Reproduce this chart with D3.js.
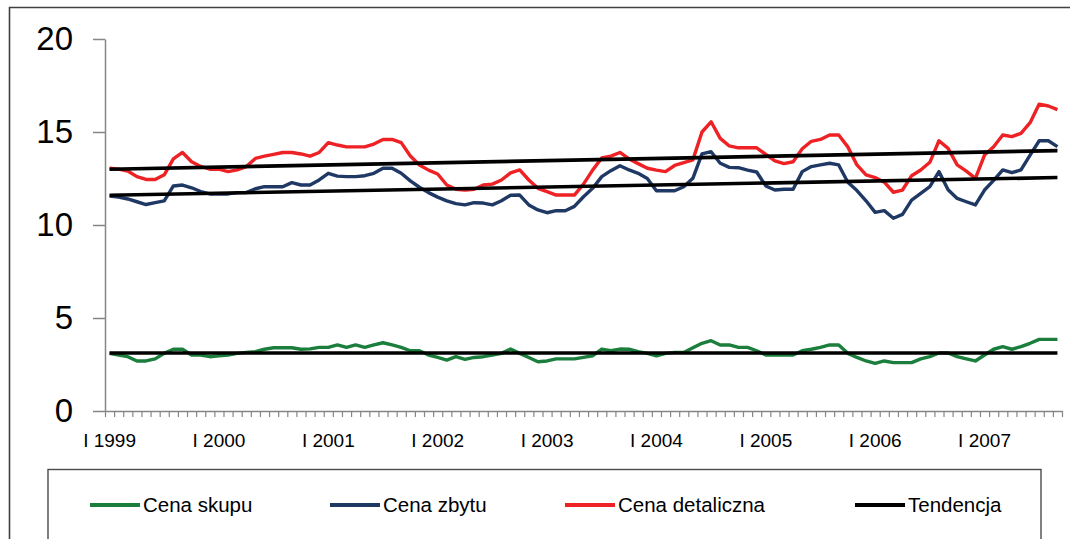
<!DOCTYPE html>
<html>
<head>
<meta charset="utf-8">
<script src="https://cdn.jsdelivr.net/npm/d3@7"></script>
<style>
  html, body { margin: 0; padding: 0; background: #fff; }
  svg { display: block; font-family: "Liberation Sans", Arial, sans-serif; }
</style>
</head>
<body>
<svg id="chart" width="1070" height="539"></svg>
<script>
// Monthly prices, January 1999 – September 2007
const years = [1999, 2000, 2001, 2002, 2003, 2004, 2005, 2006, 2007];
const romanMonths = ["I", "II", "III", "IV", "V", "VI", "VII", "VIII", "IX", "X", "XI", "XII"];
const lastYearMonths = 9;

const cenaSkupu = [
  3.10, 3.01, 2.92, 2.69, 2.69, 2.80, 3.10, 3.32, 3.32, 3.01, 3.01, 2.92,
  2.97, 3.01, 3.10, 3.15, 3.19, 3.32, 3.40, 3.40, 3.40, 3.32, 3.34, 3.42,
  3.42, 3.55, 3.42, 3.55, 3.42, 3.55, 3.67, 3.55, 3.42, 3.24, 3.24, 3.01,
  2.88, 2.74, 2.92, 2.78, 2.88, 2.92, 3.01, 3.10, 3.33, 3.10, 2.88, 2.65,
  2.69, 2.80, 2.80, 2.80, 2.88, 2.97, 3.33, 3.24, 3.33, 3.32, 3.19, 3.10,
  2.97, 3.10, 3.15, 3.15, 3.40, 3.64, 3.78, 3.55, 3.55, 3.42, 3.42, 3.24,
  3.01, 3.01, 3.01, 3.01, 3.24, 3.32, 3.42, 3.55, 3.55, 3.10, 2.88, 2.69,
  2.56, 2.69, 2.60, 2.60, 2.60, 2.80, 2.92, 3.12, 3.12, 2.92, 2.80, 2.69,
  3.01, 3.32, 3.46, 3.32, 3.46, 3.64, 3.85, 3.85, 3.85
];

const cenaZbytu = [
  11.55, 11.50, 11.40, 11.25, 11.10, 11.20, 11.30, 12.10, 12.15, 12.00, 11.80, 11.67,
  11.67, 11.67, 11.74, 11.74, 11.95, 12.06, 12.06, 12.06, 12.28, 12.15, 12.15, 12.42,
  12.78, 12.63, 12.60, 12.60, 12.65, 12.78, 13.05, 13.05, 12.78, 12.37, 12.03, 11.74,
  11.50, 11.30, 11.15, 11.08, 11.20, 11.18, 11.08, 11.30, 11.60, 11.61, 11.08, 10.81,
  10.66, 10.77, 10.77, 11.00, 11.52, 11.97, 12.60, 12.92, 13.19, 12.96, 12.78, 12.50,
  11.84, 11.84, 11.84, 12.06, 12.51, 13.82, 13.94, 13.32, 13.10, 13.08, 12.95, 12.85,
  12.10, 11.88, 11.92, 11.92, 12.87, 13.14, 13.23, 13.32, 13.23, 12.30, 11.85, 11.30,
  10.68, 10.77, 10.36, 10.57, 11.34, 11.70, 12.06, 12.87, 11.90, 11.43, 11.25, 11.08,
  11.88, 12.40, 12.96, 12.81, 12.96, 13.76, 14.53, 14.53, 14.21
];

const cenaDetaliczna = [
  13.05, 13.00, 12.90, 12.60, 12.45, 12.45, 12.70, 13.55, 13.90, 13.40, 13.15, 13.00,
  13.00, 12.87, 12.96, 13.14, 13.58, 13.70, 13.80, 13.90, 13.90, 13.82, 13.70, 13.90,
  14.43, 14.30, 14.20, 14.20, 14.20, 14.35, 14.60, 14.60, 14.43, 13.71, 13.23, 12.95,
  12.74, 12.15, 11.92, 11.88, 11.92, 12.15, 12.20, 12.42, 12.80, 12.96, 12.42, 11.97,
  11.79, 11.61, 11.61, 11.61, 12.20, 12.95, 13.60, 13.70, 13.90, 13.55, 13.30, 13.05,
  12.95, 12.87, 13.20, 13.35, 13.50, 15.00, 15.55, 14.66, 14.25, 14.15, 14.15, 14.15,
  13.80, 13.45, 13.30, 13.40, 14.10, 14.50, 14.60, 14.84, 14.84, 14.20, 13.23, 12.70,
  12.55, 12.30, 11.76, 11.88, 12.65, 12.96, 13.37, 14.53, 14.12, 13.23, 12.90, 12.51,
  13.76, 14.21, 14.84, 14.75, 14.93, 15.50, 16.50, 16.40, 16.20
];

// Trend lines: value at the first and at the last month
const trendSkupu = [3.12, 3.12];
const trendZbytu = [11.60, 12.55];
const trendDetaliczna = [13.00, 14.00];

const yTicks = [0, 5, 10, 15, 20];
const legendLabels = ["Cena skupu", "Cena zbytu", "Cena detaliczna", "Tendencja"];
const colors = ["#1b7e3c", "#1f3864", "#ee2125", "#000000"];

// Month categories, e.g. "I 1999", "II 1999", ...
const categories = [];
years.forEach((yr, k) => {
  const n = k === years.length - 1 ? lastYearMonths : 12;
  for (let m = 0; m < n; m++) categories.push(romanMonths[m] + " " + yr);
});

const svg = d3.select("#chart");
const plot = { left: 105, right: 1062, top: 39, bottom: 411 };

const x = d3.scaleBand().domain(categories).range([plot.left, plot.right]).padding(0);
const xEdge = d3.scaleLinear().domain([0, categories.length]).range([plot.left, plot.right]);
const y = d3.scaleLinear().domain([0, 20]).range([plot.bottom, plot.top]);
const cx = c => x(c) + x.bandwidth() / 2;

// Outer frame (top and left edges visible)
svg.append("path")
  .attr("d", `M9.5,539 V7.5 H1070`)
  .attr("fill", "none").attr("stroke", "#404040").attr("stroke-width", 1.6);

// Y axis
const yAxis = svg.append("g")
  .attr("transform", `translate(${plot.left},0)`)
  .call(d3.axisLeft(y).tickValues(yTicks).tickSize(12).tickPadding(20).tickSizeOuter(0).tickFormat(d3.format("d")));
yAxis.select(".domain").attr("stroke", "#868686").attr("stroke-width", 1.5);
yAxis.selectAll(".tick line").attr("stroke", "#868686").attr("stroke-width", 1.5);
yAxis.selectAll(".tick text")
  .attr("font-size", 33).attr("fill", "#000")
  .attr("font-family", "Liberation Sans, Arial, sans-serif");

// X axis: tick marks at category boundaries
const xTicks = svg.append("g")
  .attr("transform", `translate(0,${plot.bottom})`)
  .call(d3.axisBottom(xEdge).tickValues(d3.range(categories.length + 1)).tickSize(6).tickSizeOuter(0).tickFormat(""));
xTicks.select(".domain").attr("stroke", "#868686").attr("stroke-width", 1.5);
xTicks.selectAll(".tick line").attr("stroke", "#868686").attr("stroke-width", 1.2);

// X axis labels: January of each year
const janCats = categories.filter(c => c.startsWith("I "));
const xLabels = svg.append("g")
  .attr("transform", `translate(0,${plot.bottom})`)
  .call(d3.axisBottom(x).tickValues(janCats).tickSize(0).tickPadding(23));
xLabels.select(".domain").remove();
xLabels.selectAll(".tick text")
  .attr("font-size", 19).attr("fill", "#000")
  .attr("font-family", "Liberation Sans, Arial, sans-serif");

// Series lines
const line = d3.line().x((d, i) => cx(categories[i])).y(d => y(d));
const series = [cenaSkupu, cenaZbytu, cenaDetaliczna];
series.forEach((s, k) => {
  svg.append("path")
    .datum(s)
    .attr("d", line)
    .attr("fill", "none")
    .attr("stroke", colors[k])
    .attr("stroke-width", 3.4)
    .attr("stroke-linejoin", "round");
});

// Trend lines
const first = categories[0], last = categories[categories.length - 1];
[trendSkupu, trendZbytu, trendDetaliczna].forEach(t => {
  svg.append("line")
    .attr("x1", cx(first)).attr("y1", y(t[0]))
    .attr("x2", cx(last)).attr("y2", y(t[1]))
    .attr("stroke", "#000").attr("stroke-width", 3.6);
});

// Legend
svg.append("rect")
  .attr("x", 48).attr("y", 469.5).attr("width", 993).attr("height", 100)
  .attr("fill", "#fff").attr("stroke", "#4a4a4a").attr("stroke-width", 1.4);

const legendX = [90, 330, 565, 855];
const legendY = 505;
const lg = svg.append("g").selectAll("g").data(legendLabels).join("g")
  .attr("transform", (d, i) => `translate(${legendX[i]},${legendY})`);
lg.append("line")
  .attr("x1", 0).attr("x2", 50).attr("y1", 0).attr("y2", 0)
  .attr("stroke", (d, i) => colors[i]).attr("stroke-width", 4);
lg.append("text")
  .attr("x", 53).attr("dy", "0.35em")
  .attr("font-size", 20.5).attr("fill", "#000")
  .text(d => d);
</script>
</body>
</html>
